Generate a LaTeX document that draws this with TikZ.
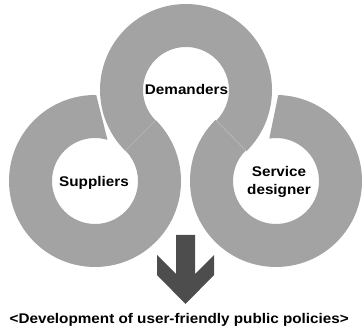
\documentclass[tikz,border=0pt]{standalone}
\usepackage{fontspec}
\setmainfont{Liberation Sans}[FakeStretch=1.09]
\usetikzlibrary{calc}
\definecolor{ringgray}{HTML}{A3A3A3}
\definecolor{arrowgray}{HTML}{4D4D4D}
\definecolor{seamgray}{HTML}{B6B6B6}
\tikzset{
  band/.style={fill=ringgray},
  seam/.style={draw=seamgray, line width=0.7pt},
  lbl/.style={font=\fontsize{14}{18.3}\selectfont\bfseries, inner sep=0pt, align=center},
  blockarrow/.style={fill=arrowgray}
}
\begin{document}
\begin{tikzpicture}[x=1pt,y=1pt]
\useasboundingbox (0,0) rectangle (363,331);
\def\rin{43}
\def\rout{86}
% ring centres
\coordinate (T) at (186,241);
\coordinate (L) at (95,150);
\coordinate (R) at (276,150);

% left ring: from the joint round the bottom up to the cut near its top
\fill[band] ($(L)+(45:\rout)$) arc[start angle=45, end angle=-270.8, radius=\rout]
  -- ($(L)+(-286.9:\rin)$) arc[start angle=-286.9, end angle=45, radius=\rin] -- cycle;
% right ring
\fill[band] ($(R)+(134.7:\rout)$) arc[start angle=134.7, end angle=448.5, radius=\rout]
  -- ($(R)+(459:\rin)$) arc[start angle=459, end angle=134.7, radius=\rin] -- cycle;
% top ring, over the top between the two joints
\fill[band] ($(T)+(-45.3:\rout)$) arc[start angle=-45.3, end angle=225, radius=\rout]
  -- ($(T)+(225:\rin)$) arc[start angle=225, end angle=-45.3, radius=\rin] -- cycle;

% seams where the rings meet
\coordinate (jla) at ($(T)+(225:\rin)$);
\coordinate (jlb) at ($(T)+(225:\rout)$);
\coordinate (jra) at ($(T)+(-45.3:\rin)$);
\coordinate (jrb) at ($(T)+(-45.3:\rout)$);
\draw[seam] (jla) -- (jlb);
\draw[seam] (jra) -- (jrb);

% labels
\node[lbl, anchor=base] (dem) at (186.5,236) {Demanders};
\node[lbl, anchor=base] (sup) at (94,144.3) {Suppliers};
\node[lbl] (svc) at (279,149) {Service\\designer};

% downward block arrow
\fill[blockarrow] (176,96) -- (195,96) -- (195,57) -- (214,76) -- (214,56)
  -- (185.5,27) -- (157,56) -- (157,76) -- (176,57) -- cycle;

% outcome
\node[lbl, anchor=base] (out) at (179.2,7.7) {<Development of user-friendly public policies>};
\end{tikzpicture}
\end{document}
